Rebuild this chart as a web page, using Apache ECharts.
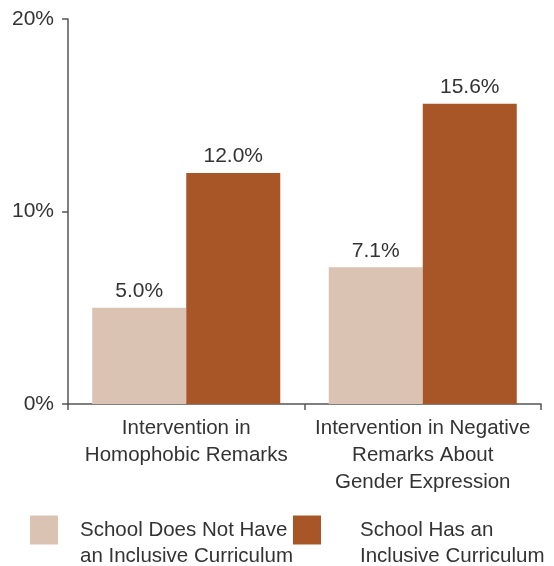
<!DOCTYPE html>
<html>
<head>
<meta charset="utf-8">
<script src="https://cdn.jsdelivr.net/npm/echarts@6/dist/echarts.min.js"></script>
<style>html,body{margin:0;padding:0;background:#fff;}#c{width:554px;height:566px;}</style>
</head>
<body>
<div id="c"></div>
<script>
const categories = ["Intervention in\nHomophobic Remarks", "Intervention in Negative\nRemarks About\nGender Expression"];
const seriesNames = ["School Does Not Have\nan Inclusive Curriculum", "School Has an\nInclusive Curriculum"];
const noCurriculum = [5.0, 7.1];
const hasCurriculum = [12.0, 15.6];
const yTicks = [0, 10, 20];

const FONT = "Liberation Sans";
const chart = echarts.init(document.getElementById('c'));
const axisColor = '#555';
const textColor = '#333';
const labelCfg = {
  show: true, position: 'top', distance: 6,
  formatter: p => p.value.toFixed(1) + '%',
  color: textColor, fontFamily: FONT, fontSize: 21
};
const legendText = { color: textColor, fontFamily: FONT, fontSize: 20.5, lineHeight: 26 };
chart.setOption({
  animation: false,
  grid: { left: 68, right: 13, top: 19, bottom: 162 },
  xAxis: {
    type: 'category', data: categories,
    axisLine: { lineStyle: { color: axisColor, width: 1.5 } },
    axisTick: { show: true, length: 6, lineStyle: { color: axisColor, width: 1.5 } },
    axisLabel: { color: textColor, fontFamily: FONT, fontSize: 20.5, lineHeight: 27, margin: 11, interval: 0 }
  },
  yAxis: {
    type: 'value', min: yTicks[0], max: yTicks[yTicks.length - 1], interval: 10,
    splitLine: { show: false },
    axisLine: { show: true, lineStyle: { color: axisColor, width: 1.5 } },
    axisTick: { show: true, length: 6, lineStyle: { color: axisColor, width: 1.5 } },
    axisLabel: { color: textColor, fontFamily: FONT, fontSize: 21, margin: 14, formatter: v => v + '%' }
  },
  legend: [
    { data: [seriesNames[0]], left: 30, top: 491, itemWidth: 28, itemHeight: 29, itemGap: 0, padding: 0,
      icon: 'rect', formatter: n => '\n' + n, textStyle: Object.assign({}, legendText, { padding: [0, 0, 0, 17] }), selectedMode: false },
    { data: [seriesNames[1]], left: 293, top: 491, itemWidth: 28, itemHeight: 29, itemGap: 0, padding: 0,
      icon: 'rect', formatter: n => '\n' + n, textStyle: Object.assign({}, legendText, { padding: [0, 0, 0, 34] }), selectedMode: false }
  ],
  series: [
    { name: seriesNames[0], type: 'bar', data: noCurriculum, barGap: '0%', barCategoryGap: '20.5%',
      itemStyle: { color: '#dbc3b4' }, label: labelCfg },
    { name: seriesNames[1], type: 'bar', data: hasCurriculum,
      itemStyle: { color: '#a85627' }, label: labelCfg }
  ]
});
</script>
</body>
</html>
